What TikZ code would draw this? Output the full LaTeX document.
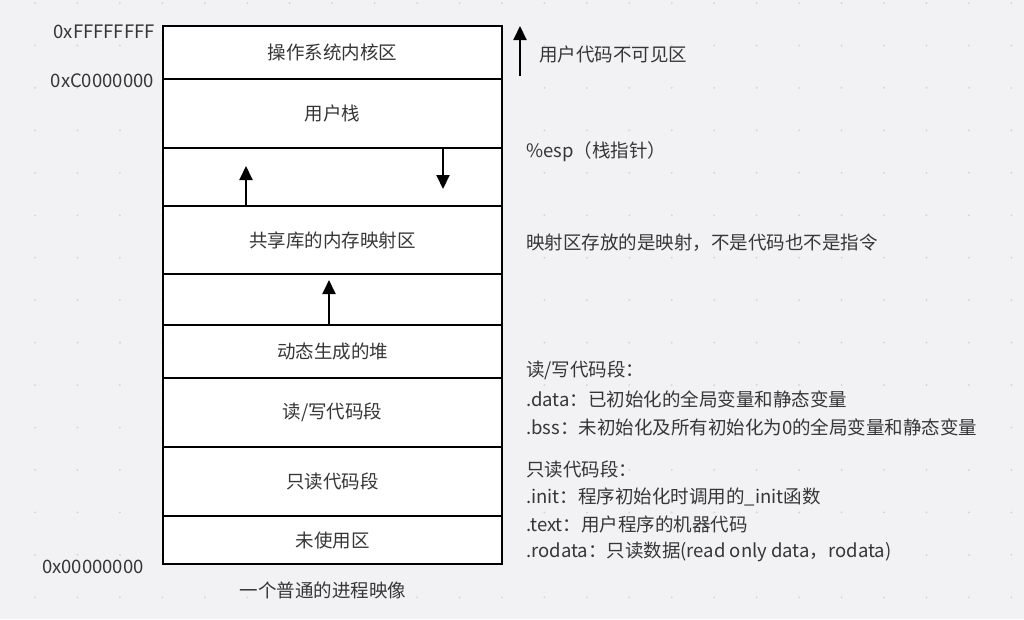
\documentclass[tikz,border=0pt]{standalone}
\usepackage{fontspec}
\setmainfont{Noto Sans CJK SC}
\usetikzlibrary{arrows.meta}
\definecolor{bgc}{HTML}{F2F2F4}
\definecolor{dotc}{HTML}{D2D2D8}
\definecolor{txt}{HTML}{363636}
\tikzset{
  cell/.style={draw=black, fill=white, line width=2.2pt, minimum width=339pt, inner sep=0pt, text=txt, font=\fontsize{18.5}{20}\selectfont},
  lbl/.style={inner sep=0pt, text=txt, font=\fontsize{18.5}{20}\selectfont},
  arr/.style={line width=2pt, -{Triangle[length=14pt,width=13pt]}}
}
\begin{document}
\begin{tikzpicture}[x=1pt,y=-1pt]
\fill[bgc] (0,0) rectangle (1024,619);
\useasboundingbox (0,0) rectangle (1024,619);
\foreach \i in {0,...,23}{
  \foreach \j in {0,...,14}{
    \fill[dotc] (35+42.45*\i, 3+42.45*\j) circle (1pt);
  }
}
% cells
\node[cell, minimum height=53pt] (kernel) at (332.5,52.5) {操作系统内核区};
\node[cell, minimum height=69pt] (ustack) at (332.5,113.5) {用户栈};
\node[cell, minimum height=58pt] (gap1) at (332.5,177) {};
\node[cell, minimum height=68pt] (shlib) at (332.5,240) {共享库的内存映射区};
\node[cell, minimum height=51pt] (gap2) at (332.5,299.5) {};
\node[cell, minimum height=53pt] (heap) at (332.5,351.5) {动态生成的堆};
\node[cell, minimum height=69pt] (rw) at (332.5,412.5) {读/写代码段};
\node[cell, minimum height=69pt] (ro) at (332.5,481.5) {只读代码段};
\node[cell, minimum height=48pt] (unused) at (332.5,540) {未使用区};
% arrows in gaps
\coordinate (a1s) at (246,206);
\coordinate (a1e) at (246,166);
\draw[arr] (a1s) -- (a1e);
\coordinate (a2s) at (443,148);
\coordinate (a2e) at (443,189);
\draw[arr] (a2s) -- (a2e);
\coordinate (a3s) at (329,325);
\coordinate (a3e) at (329,280);
\draw[arr] (a3s) -- (a3e);
\coordinate (a4s) at (520,76);
\coordinate (a4e) at (520,26);
\draw[arr] (a4s) -- (a4e);
% address labels
\node[lbl, anchor=east] (addrF) at (155,32) {0xFFFFFFFF};
\node[lbl, anchor=east] (addrC) at (154,81) {0xC0000000};
\node[lbl, anchor=east] (addr0) at (144,567) {0x00000000};
\node[lbl] (caption) at (323,590) {一个普通的进程映像};
% right notes
\node[lbl, anchor=west] (n1) at (539,54) {用户代码不可见区};
\node[lbl, anchor=west] (n2) at (526,152) {\%esp（栈指针）};
\node[lbl, anchor=west] (n3) at (526,243) {映射区存放的是映射，不是代码也不是指令};
\node[lbl, anchor=west] (r1) at (526,370) {读/写代码段：};
\node[lbl, anchor=west] (r2) at (526,399) {.data：已初始化的全局变量和静态变量};
\node[lbl, anchor=west] (r3) at (526,427) {.bss：未初始化及所有初始化为0的全局变量和静态变量};
\node[lbl, anchor=west] (o1) at (526,469) {只读代码段：};
\node[lbl, anchor=west] (o2) at (526,497) {.init：程序初始化时调用的\_init函数};
\node[lbl, anchor=west] (o3) at (526,524) {.text：用户程序的机器代码};
\node[lbl, anchor=west] (o4) at (526,552) {.rodata：只读数据(read only data，rodata)};
\end{tikzpicture}
\end{document}
